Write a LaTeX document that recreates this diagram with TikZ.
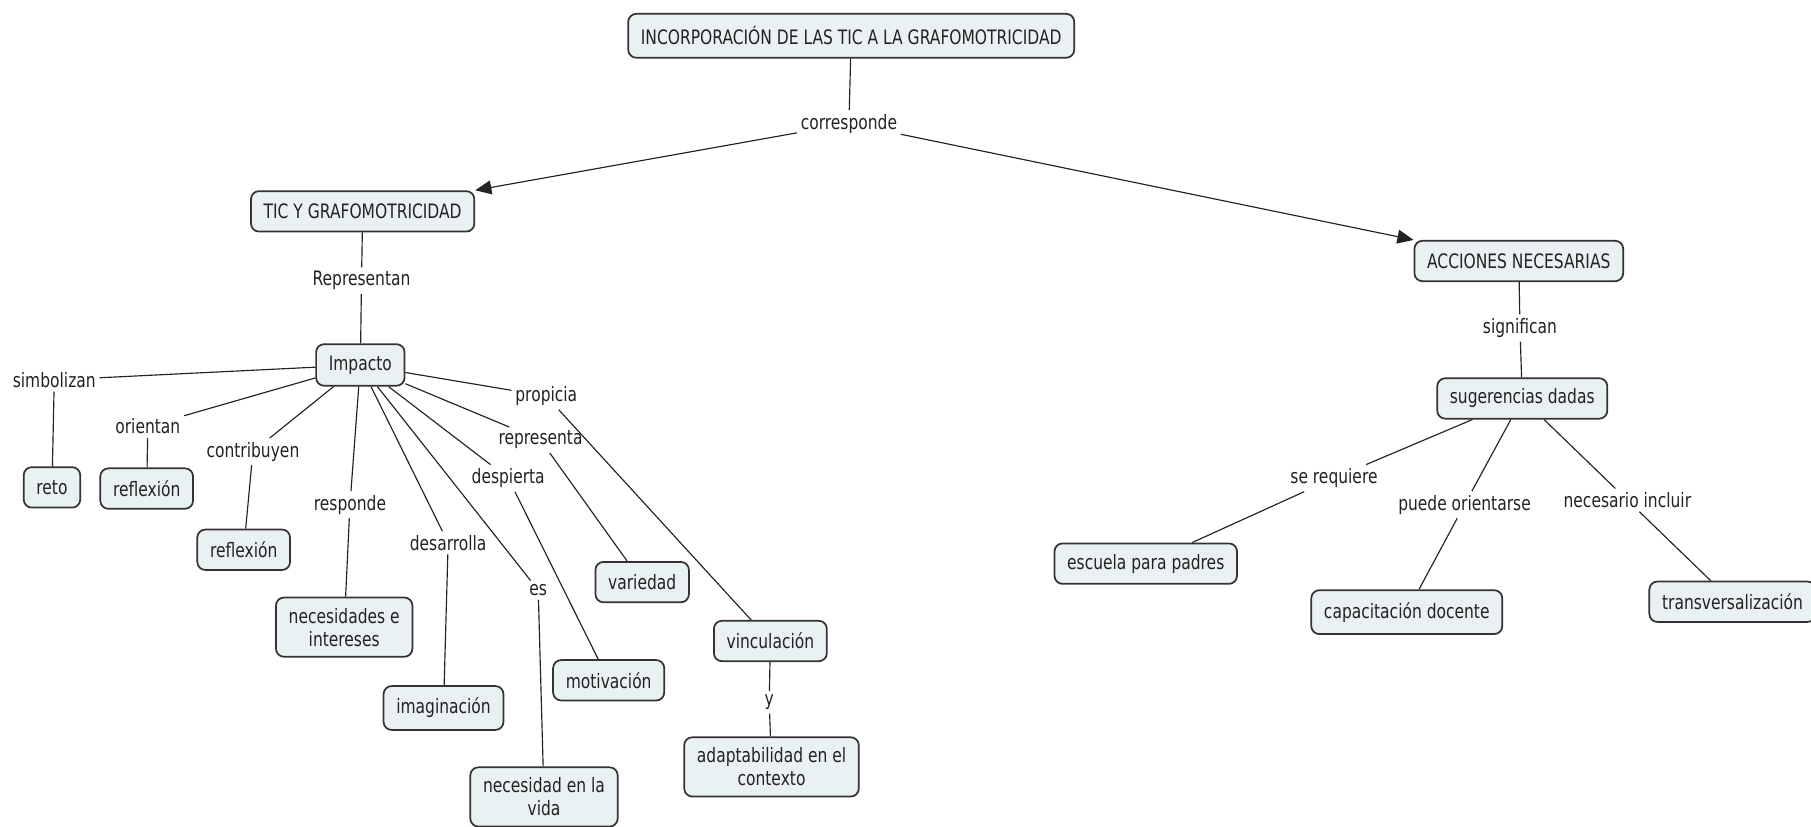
\documentclass[tikz,border=0pt]{standalone}
\usepackage{fontspec}
\setmainfont{DejaVu Sans}[FakeStretch=0.78]
\usetikzlibrary{arrows.meta}
\definecolor{boxfill}{HTML}{EAF1F3}
\definecolor{boxline}{HTML}{333333}
\definecolor{txt}{HTML}{222222}
\begin{document}
\begin{tikzpicture}[x=0.5pt,y=-0.5pt,
  concept/.style={draw=boxline,fill=boxfill,rounded corners=3.5pt,line width=0.75pt,
    font=\fontsize{8.6}{10}\selectfont,text=txt,inner xsep=5.5pt,minimum height=17.5pt,align=center},
  twoline/.style={concept,inner ysep=4.5pt},
  link/.style={font=\fontsize{8.6}{10}\selectfont,text=txt,inner sep=1.5pt},
  conn/.style={draw=txt,line width=0.5pt},
  arr/.style={conn,-{Triangle[length=7pt,width=6pt]}}]
\useasboundingbox (0,0) rectangle (1568,716);

% concepts
\node[concept,minimum height=19pt] (top) at (737,31) {INCORPORACIÓN DE LAS TIC A LA GRAFOMOTRICIDAD};
\node[concept] (tic) at (314,183) {TIC Y GRAFOMOTRICIDAD};
\node[concept] (acc) at (1315,226) {ACCIONES NECESARIAS};
\node[concept,minimum height=18pt] (imp) at (312,316) {Impacto};
\node[concept] (reto) at (45,422) {reto};
\node[concept] (ref1) at (127,423) {reflexión};
\node[concept] (ref2) at (211,476) {reflexión};
\node[twoline] (nec) at (298,543) {necesidades e\\intereses};
\node[concept,minimum height=19pt] (ima) at (384,613) {imaginación};
\node[twoline] (vida) at (471,690) {necesidad en la\\vida};
\node[concept] (mot) at (527,589) {motivación};
\node[concept] (var) at (556,504) {variedad};
\node[concept] (vin) at (667,555) {vinculación};
\node[twoline] (ada) at (668,664) {adaptabilidad en el\\contexto};
\node[concept] (sug) at (1318,345) {sugerencias dadas};
\node[concept] (esc) at (992,488) {escuela para padres};
\node[concept,minimum height=19pt] (cap) at (1218,530) {capacitación docente};
\node[concept] (tra) at (1500,521) {transversalización};

% linking phrases
\node[link] (l0) at (735,107) {corresponde};
\node[link] (l1) at (313,243) {Representan};
\node[link] (l2) at (47,329) {simbolizan};
\node[link] (l3) at (128,369) {orientan};
\node[link] (l4) at (219,391) {contribuyen};
\node[link] (l5) at (303,437) {responde};
\node[link] (l6) at (388,470) {desarrolla};
\node[link] (l7) at (466,511) {es};
\node[link] (l8) at (440,414) {despierta};
\node[link] (l9) at (468,381) {representa};
\node[link] (l10) at (473,343) {propicia};
\node[link] (l11) at (666,608) {y};
\node[link] (l12) at (1316,284) {significan};
\node[link] (l13) at (1155,414) {se requiere};
\node[link] (l14) at (1268,437) {puede orientarse};
\node[link] (l15) at (1409,433) {necesario incluir};

% connectors
\draw[conn] (top) -- (l0);
\draw[arr] (l0) -- (tic.north east);
\draw[arr] (l0) -- (acc.north west);
\draw[conn] (tic) -- (l1);
\draw[conn] (l1) -- (imp);
\draw[conn] (imp) -- (l2);
\draw[conn] (l2) -- (reto);
\draw[conn] (imp) -- (l3);
\draw[conn] (l3) -- (ref1);
\draw[conn] (imp) -- (l4);
\draw[conn] (l4) -- (ref2);
\draw[conn] (imp) -- (l5);
\draw[conn] (l5) -- (nec);
\draw[conn] (imp) -- (l6);
\draw[conn] (l6) -- (ima);
\draw[conn] (imp) -- (l7);
\draw[conn] (l7) -- (vida);
\draw[conn] (imp) -- (l8);
\draw[conn] (l8) -- (mot);
\draw[conn] (imp) -- (l9);
\draw[conn] (l9) -- (var);
\draw[conn] (imp) -- (l10);
\draw[conn] (l10) -- (vin);
\draw[conn] (vin) -- (l11);
\draw[conn] (l11) -- (ada);
\draw[conn] (acc) -- (l12);
\draw[conn] (l12) -- (sug);
\draw[conn] (sug) -- (l13);
\draw[conn] (l13) -- (esc);
\draw[conn] (sug) -- (l14);
\draw[conn] (l14) -- (cap);
\draw[conn] (sug) -- (l15);
\draw[conn] (l15) -- (tra);
\end{tikzpicture}
\end{document}
